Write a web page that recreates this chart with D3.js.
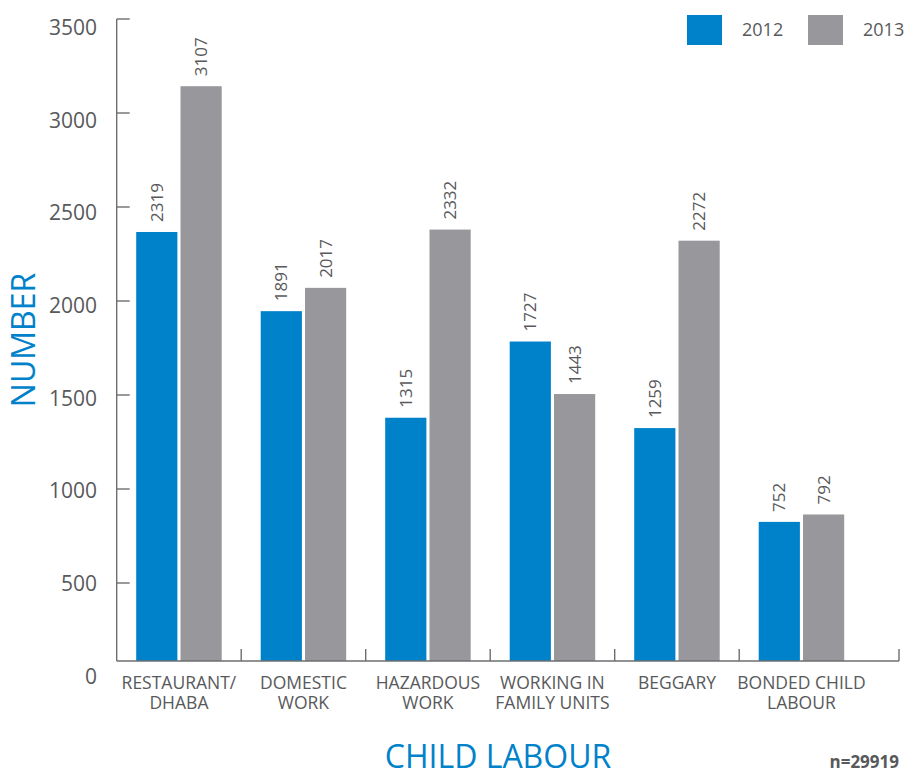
<!DOCTYPE html>
<html>
<head>
<meta charset="utf-8">
<script src="https://cdn.jsdelivr.net/npm/d3@7/dist/d3.min.js"></script>
<style>
  html, body { margin: 0; padding: 0; background: #fff; }
  svg { display: block; font-family: "Open Sans", "Noto Sans", sans-serif; }
</style>
</head>
<body>
<svg id="chart" width="908" height="772"></svg>
<script>
// Child labour cases by category, 2012 vs 2013
const categories = [
  ["RESTAURANT/", "DHABA"],
  ["DOMESTIC", "WORK"],
  ["HAZARDOUS", "WORK"],
  ["WORKING IN", "FAMILY UNITS"],
  ["BEGGARY"],
  ["BONDED CHILD", "LABOUR"]
];
const years = ["2012", "2013"];
const values2012 = [2319, 1891, 1315, 1727, 1259, 752];
const values2013 = [3107, 2017, 2332, 1443, 2272, 792];
const yTicks = [0, 500, 1000, 1500, 2000, 2500, 3000, 3500];
const sampleNote = "n=29919";

const BLUE = "#0082ca";
const GREY = "#98979c";
const TEXT = "#58595b";
const AXIS = "#6d6e71";

const svg = d3.select("#chart");
const catKeys = categories.map(c => c.join(" "));
const series = [values2012, values2013];
const colors = [BLUE, GREY];

const axisX = 116.7, baseY = 661, axisEnd = 899;

const x0 = d3.scaleBand().domain(catKeys).range([axisX, 863.7]).padding(0);
const x1 = d3.scaleBand().domain(years).range([19.5, 105]).paddingInner(0.07);
const y = d3.scaleLinear().domain([0, 3500]).range([baseY, 13.5]);
// tick marks and tick labels sit on their own vertical placement
const yTick = d3.scaleLinear().domain([0, 3500]).range([677, 19]);
const yLabel = d3.scaleLinear().domain([0, 3500]).range([676, 27.5]);

// bars
const g = svg.append("g");
catKeys.forEach((key, i) => {
  years.forEach((yr, j) => {
    const v = series[j][i];
    const bx = x0(key) + x1(yr);
    g.append("rect")
      .attr("x", bx)
      .attr("y", y(v))
      .attr("width", x1.bandwidth())
      .attr("height", baseY - y(v))
      .attr("fill", colors[j]);
    g.append("text")
      .attr("transform", `translate(${bx + x1.bandwidth() / 2},${y(v) - 10}) rotate(-90)`)
      .attr("dy", "0.35em")
      .attr("text-anchor", "start")
      .attr("fill", TEXT)
      .attr("font-size", 17)
      .text(v);
  });
});

// y axis
svg.append("line")
  .attr("x1", axisX).attr("x2", axisX)
  .attr("y1", yTick(3500)).attr("y2", baseY)
  .attr("stroke", AXIS).attr("stroke-width", 1.4);
yTicks.forEach(t => {
  if (t > 0) {
    svg.append("line")
      .attr("x1", axisX).attr("x2", axisX + 13)
      .attr("y1", yTick(t)).attr("y2", yTick(t))
      .attr("stroke", AXIS).attr("stroke-width", 1.4);
  }
  svg.append("text")
    .attr("x", 97)
    .attr("y", yLabel(t))
    .attr("dy", "0.36em")
    .attr("text-anchor", "end")
    .attr("fill", TEXT)
    .attr("font-size", 21)
    .text(t);
});

// x axis
svg.append("line")
  .attr("x1", axisX).attr("x2", axisEnd)
  .attr("y1", baseY).attr("y2", baseY)
  .attr("stroke", AXIS).attr("stroke-width", 1.4);
const tickXs = catKeys.slice(1).map(k => x0(k)).concat([axisEnd]);
tickXs.forEach(tx => {
  svg.append("line")
    .attr("x1", tx).attr("x2", tx)
    .attr("y1", baseY).attr("y2", baseY - 12)
    .attr("stroke", AXIS).attr("stroke-width", 1.4);
});
categories.forEach((lines, i) => {
  const t = svg.append("text")
    .attr("text-anchor", "middle")
    .attr("fill", TEXT)
    .attr("font-size", 17.5);
  lines.forEach((ln, k) => {
    t.append("tspan")
      .attr("x", x0(catKeys[i]) + x0.bandwidth() / 2)
      .attr("y", 689 + k * 20)
      .text(ln);
  });
});

// axis titles
svg.append("text")
  .attr("transform", "translate(35,340) rotate(-90)")
  .attr("text-anchor", "middle")
  .attr("fill", BLUE)
  .attr("font-size", 32)
  .text("NUMBER");
svg.append("text")
  .attr("x", 498).attr("y", 768)
  .attr("text-anchor", "middle")
  .attr("fill", BLUE)
  .attr("font-size", 32)
  .text("CHILD LABOUR");
svg.append("text")
  .attr("x", axisEnd).attr("y", 768)
  .attr("text-anchor", "end")
  .attr("fill", TEXT)
  .attr("font-size", 17)
  .attr("font-weight", "bold")
  .text(sampleNote);

// legend
const legendX = [687, 808];
years.forEach((yr, j) => {
  svg.append("rect")
    .attr("x", legendX[j]).attr("y", 15)
    .attr("width", 35).attr("height", 30)
    .attr("fill", colors[j]);
  svg.append("text")
    .attr("x", legendX[j] + 55).attr("y", 30)
    .attr("dy", "0.36em")
    .attr("fill", TEXT)
    .attr("font-size", 18)
    .text(yr);
});
</script>
</body>
</html>
